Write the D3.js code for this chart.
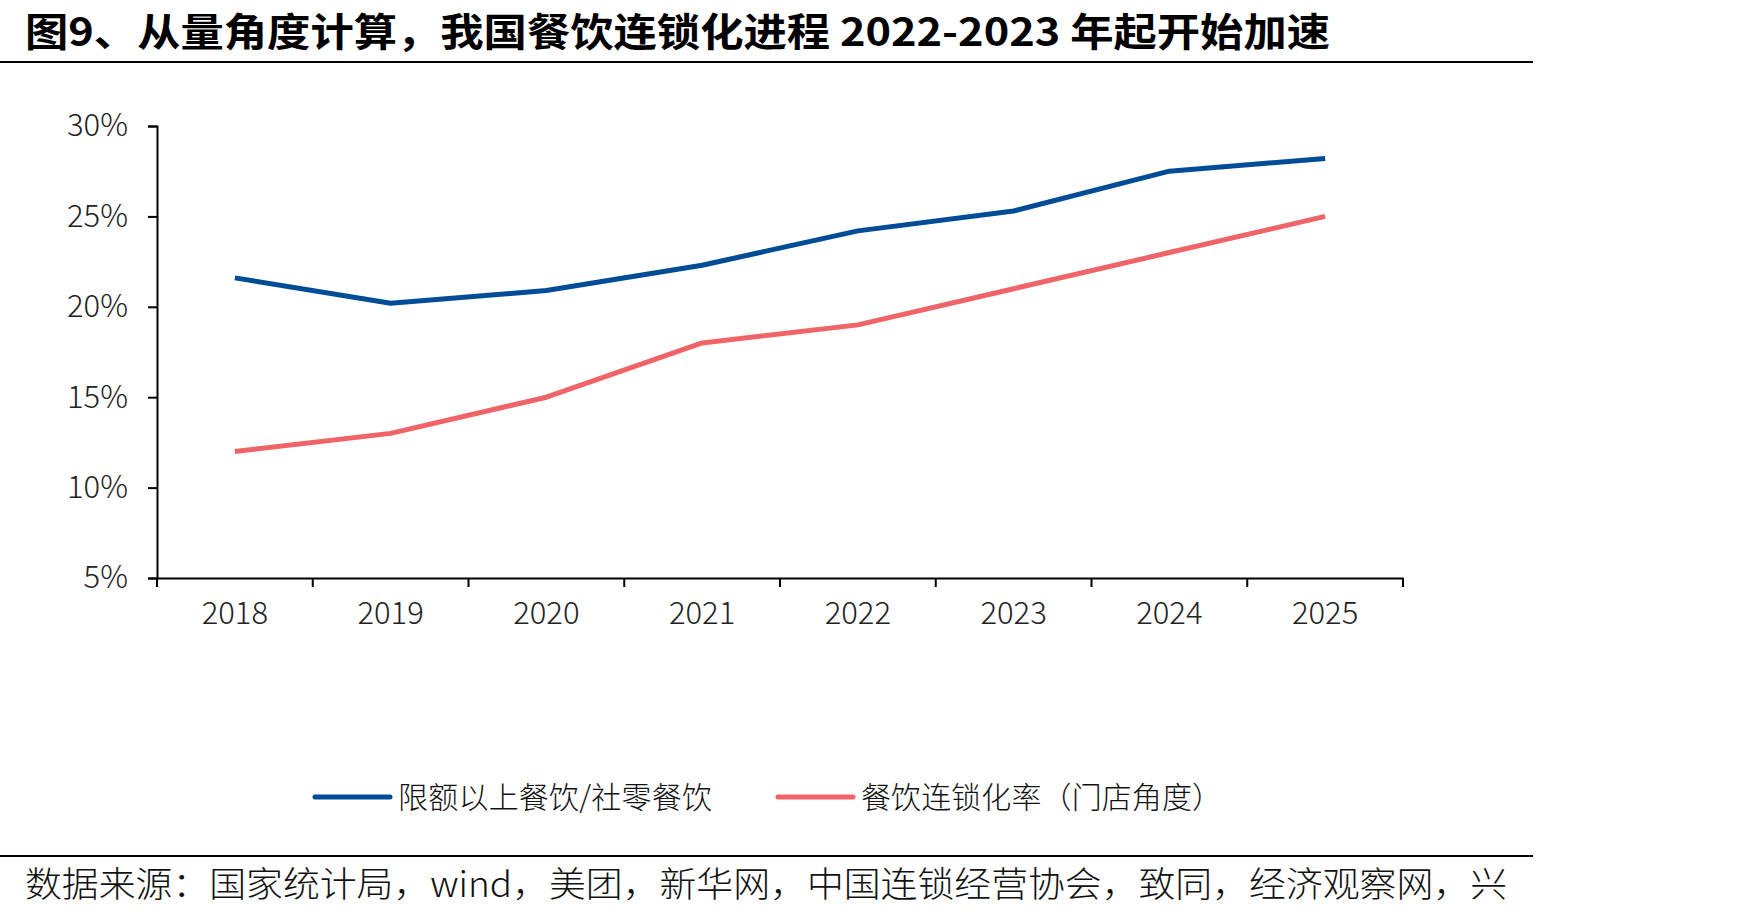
<!DOCTYPE html>
<html>
<head>
<meta charset="utf-8">
<script src="https://cdn.jsdelivr.net/npm/d3@7"></script>
<style>
  body { margin: 0; background: #fff; }
  svg { display: block; }
</style>
</head>
<body>
<div id="chart"></div>
<script>
// data
const years = ["2018", "2019", "2020", "2021", "2022", "2023", "2024", "2025"];
const aboveQuota = [21.6, 20.2, 20.9, 22.3, 24.2, 25.3, 27.5, 28.2];   // 限额以上餐饮/社零餐饮
const chainRate = [12.0, 13.0, 15.0, 18.0, 19.0, 21.0, 23.0, 25.0];   // 餐饮连锁化率（门店角度）
const yTicks = [5, 10, 15, 20, 25, 30];
const seriesNames = ["限额以上餐饮/社零餐饮", "餐饮连锁化率（门店角度）"];
const seriesColors = ["#004c97", "#f06468"];

const W = 1748, H = 918;
const font = "'Noto Sans CJK SC', 'Liberation Sans', sans-serif";
const margin = { top: 126, left: 157, right: W - 1403, bottom: H - 578 };
const width = W - margin.left - margin.right,
    height = H - margin.top - margin.bottom;

const root = d3.select("#chart")
    .append("svg")
    .attr("width", W)
    .attr("height", H)
    .style("font-family", font);

// title + rule
root.append("text")
    .attr("x", 25)
    .attr("y", 46)
    .attr("textLength", 1305)
    .attr("lengthAdjust", "spacingAndGlyphs")
    .style("font-size", "39px")
    .style("font-weight", 700)
    .attr("fill", "#000")
    .text("图9、从量角度计算，我国餐饮连锁化进程 2022-2023 年起开始加速");

root.append("line")
    .attr("x1", 0).attr("x2", 1533)
    .attr("y1", 62).attr("y2", 62)
    .attr("stroke", "#000").attr("stroke-width", 2);

const svg = root.append("g")
    .attr("transform", "translate(" + margin.left + "," + margin.top + ")");

// scales
const x = d3.scaleBand()
    .domain(years)
    .range([0, width])
    .padding(0);

const y = d3.scaleLinear()
    .domain([5, 30])
    .range([height, 0]);

// Y axis
const yAxis = svg.append("g")
    .call(d3.axisLeft(y)
        .tickValues(yTicks)
        .tickSize(9)
        .tickPadding(20)
        .tickFormat(d => d + "%"));
yAxis.select(".domain").attr("stroke", "#000").attr("stroke-width", 2);
yAxis.selectAll(".tick line").attr("stroke", "#000").attr("stroke-width", 2);
yAxis.selectAll(".tick text")
    .style("font-size", "31px")
    .style("font-family", font)
    .style("font-weight", 300)
    .attr("fill", "#222");

// X axis: labels centred in bands, ticks on band edges
const xAxis = svg.append("g")
    .attr("transform", "translate(0," + height + ")")
    .call(d3.axisBottom(x).tickSize(0).tickPadding(24));
xAxis.select(".domain").attr("stroke", "#000").attr("stroke-width", 2);
xAxis.selectAll(".tick text")
    .style("font-size", "31px")
    .style("font-family", font)
    .style("font-weight", 300)
    .attr("fill", "#222");

const edges = years.map(d => x(d)).concat([width]);
svg.append("g")
    .selectAll("line")
    .data(edges)
    .enter()
    .append("line")
    .attr("x1", d => d).attr("x2", d => d)
    .attr("y1", height).attr("y2", height + 9)
    .attr("stroke", "#000").attr("stroke-width", 2);

// lines
const line = d3.line()
    .x((d, i) => x(years[i]) + x.bandwidth() / 2)
    .y(d => y(d));

[aboveQuota, chainRate].forEach((vals, i) => {
    svg.append("path")
        .datum(vals)
        .attr("fill", "none")
        .attr("stroke", seriesColors[i])
        .attr("stroke-width", 5)
        .attr("stroke-linejoin", "round")
        .attr("d", line);
});

// legend
const legendX = [315, 778];
const legendTextLen = [314, 361];
seriesNames.forEach((name, i) => {
    const g = root.append("g").attr("transform", "translate(" + legendX[i] + ",797)");
    g.append("line")
        .attr("x1", 0).attr("x2", 75)
        .attr("y1", 0).attr("y2", 0)
        .attr("stroke", seriesColors[i])
        .attr("stroke-width", 5)
        .attr("stroke-linecap", "round");
    g.append("text")
        .attr("x", 83)
        .attr("y", 0)
        .attr("dy", "0.36em")
        .attr("textLength", legendTextLen[i])
        .attr("lengthAdjust", "spacing")
        .style("font-size", "30px")
        .style("font-weight", 300)
        .attr("fill", "#111")
        .text(name);
});

// source + rule
root.append("line")
    .attr("x1", 0).attr("x2", 1533)
    .attr("y1", 856).attr("y2", 856)
    .attr("stroke", "#000").attr("stroke-width", 2);

root.append("text")
    .attr("x", 25)
    .attr("y", 897)
    .attr("textLength", 1482)
    .attr("lengthAdjust", "spacingAndGlyphs")
    .style("font-size", "35px")
    .style("font-weight", 300)
    .attr("fill", "#111")
    .text("数据来源：国家统计局，wind，美团，新华网，中国连锁经营协会，致同，经济观察网，兴");
</script>
</body>
</html>
